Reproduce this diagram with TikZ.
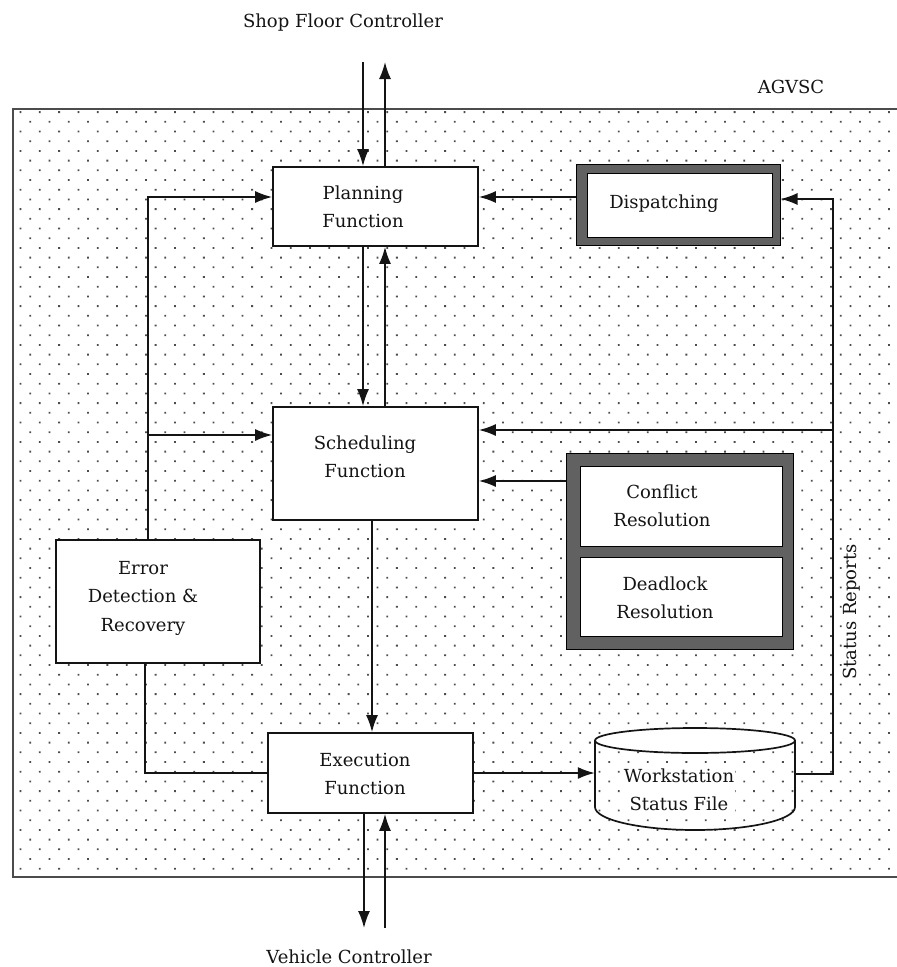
\documentclass[tikz,border=0pt]{standalone}
\usepackage{fontspec}
\setmainfont{DejaVu Serif}
\usetikzlibrary{arrows.meta}
\newcommand\figfont{\fontsize{18}{28.5}\selectfont}
\definecolor{ink}{gray}{0.08}
\definecolor{dotc}{gray}{0.3}
\definecolor{frame}{gray}{0.3}
\definecolor{hatch}{gray}{0.38}
\begin{document}
\begin{tikzpicture}[x=1pt,y=-1pt,
  ln/.style={line width=1.7pt, draw=ink},
  arr/.style={ln, -{Latex[length=17pt,width=12pt]}},
  box/.style={ln, fill=white, inner sep=0pt},
  thickbox/.style={draw=black, line width=1pt, fill=hatch, inner sep=0pt},
  innerbox/.style={draw=black, line width=0.8pt, fill=white, inner sep=0pt},
  lbl/.style={font=\figfont, text=ink, align=center, inner sep=1pt},
  ]
\useasboundingbox (0,0) rectangle (897,967);
% dotted background
\begin{scope}
\clip (13,109) rectangle (897,877);
\foreach \j in {0,...,78} {
  \pgfmathsetmacro{\yy}{113+9.7*\j}
  \pgfmathsetmacro{\xo}{19.6+9.65*mod(\j,2)}
  \fill[dotc] \foreach \i in {0,...,45} { ({\xo+19.3*\i},\yy) rectangle +(1.8pt,1.8pt) };
}
\end{scope}
\draw[line width=2.4pt, frame] (13,109) rectangle (910,877);

% boxes
\node[box, minimum width=205pt, minimum height=79pt] (plan) at (375.5,206.5) {};
\node[lbl] (planT) at (363,207) {Planning\\Function};

\node[box, minimum width=205pt, minimum height=113pt] (sched) at (375.5,463.5) {};
\node[lbl] (schedT) at (365,457) {Scheduling\\Function};

\node[box, minimum width=205pt, minimum height=80pt] (exec) at (370.5,773) {};
\node[lbl] (execT) at (365,774) {Execution\\Function};

\node[box, minimum width=204pt, minimum height=123pt] (err) at (158,601.5) {};
\node[lbl] (errT) at (143,598) {Error\\Detection \&\\Recovery};

\node[thickbox, minimum width=204pt, minimum height=81pt] (disp) at (678,204.5) {};
\node[innerbox, minimum width=185pt, minimum height=64pt] (dispin) at (679.5,205) {};
\node[lbl] (dispT) at (664,204) {Dispatching};

\node[thickbox, minimum width=227pt, minimum height=196pt] (conf) at (679.5,551) {};
\node[innerbox, minimum width=202pt, minimum height=80pt] (confin) at (681,506) {};
\node[lbl] (confT) at (662,506) {Conflict\\Resolution};
\node[innerbox, minimum width=202pt, minimum height=79pt] (dead) at (681,596.5) {};
\node[lbl] (deadT) at (665,598) {Deadlock\\Resolution};

% workstation cylinder
\node[inner sep=0pt, minimum width=200pt, minimum height=90pt] (ws) at (695,774) {};
\draw[ln] (595,740.5) -- (595,807) .. controls (595,819.7) and (639.8,830) .. (695,830)
  .. controls (750.2,830) and (795,819.7) .. (795,807) -- (795,740.5);
\draw[ln, fill=white] (695,740.5) ellipse [x radius=100pt, y radius=12.5pt];
\node[lbl, fill=white] (wsT) at (679,790) {Workstation\\Status File};

% outside labels
\node[lbl] (sfc) at (343,23) {Shop Floor Controller};
\node[lbl] (agv) at (791,87) {AGVSC};
\node[lbl] (vc) at (349,957) {Vehicle Controller};
\node[lbl, fill=white, rotate=90] (srT) at (852,612) {Status Reports};

% connectors
\coordinate (sfin) at (363,62);
\coordinate (sfout) at (385,62);
\draw[arr] (sfin) -- (sfin |- plan.north);
\draw[arr] (sfout |- plan.north) -- (sfout);
\coordinate (pd) at (363,0);
\draw[arr] (pd |- plan.south) -- (pd |- sched.north);
\coordinate (pu) at (385,0);
\draw[arr] (pu |- sched.north) -- (pu |- plan.south);
\coordinate (dp) at (0,197);
\draw[arr] (dp -| disp.west) -- (dp -| plan.east);
\coordinate (sr) at (833,199);
\draw[arr] (ws.east) -| (sr) -- (sr -| disp.east);
\coordinate (srm) at (833,430);
\draw[arr] (srm) -- (srm -| sched.east);
\coordinate (cf) at (0,481);
\draw[arr] (cf -| conf.west) -- (cf -| sched.east);
\coordinate (se) at (372,0);
\draw[arr] (se |- sched.south) -- (se |- exec.north);
\coordinate (el) at (148,197);
\draw[arr] (el |- err.north) -- (el) -- (el -| plan.west);
\coordinate (elm) at (148,435);
\draw[arr] (elm) -- (elm -| sched.west);
\coordinate (eb) at (145,0);
\draw[ln] (eb |- err.south) |- (exec.west);
\draw[arr] (exec.east) -- (exec.east -| ws.west);
\coordinate (vcd) at (364,928);
\draw[arr] (vcd |- exec.south) -- (vcd);
\coordinate (vcu) at (385,928);
\draw[arr] (vcu) -- (vcu |- exec.south);
\end{tikzpicture}
\end{document}
